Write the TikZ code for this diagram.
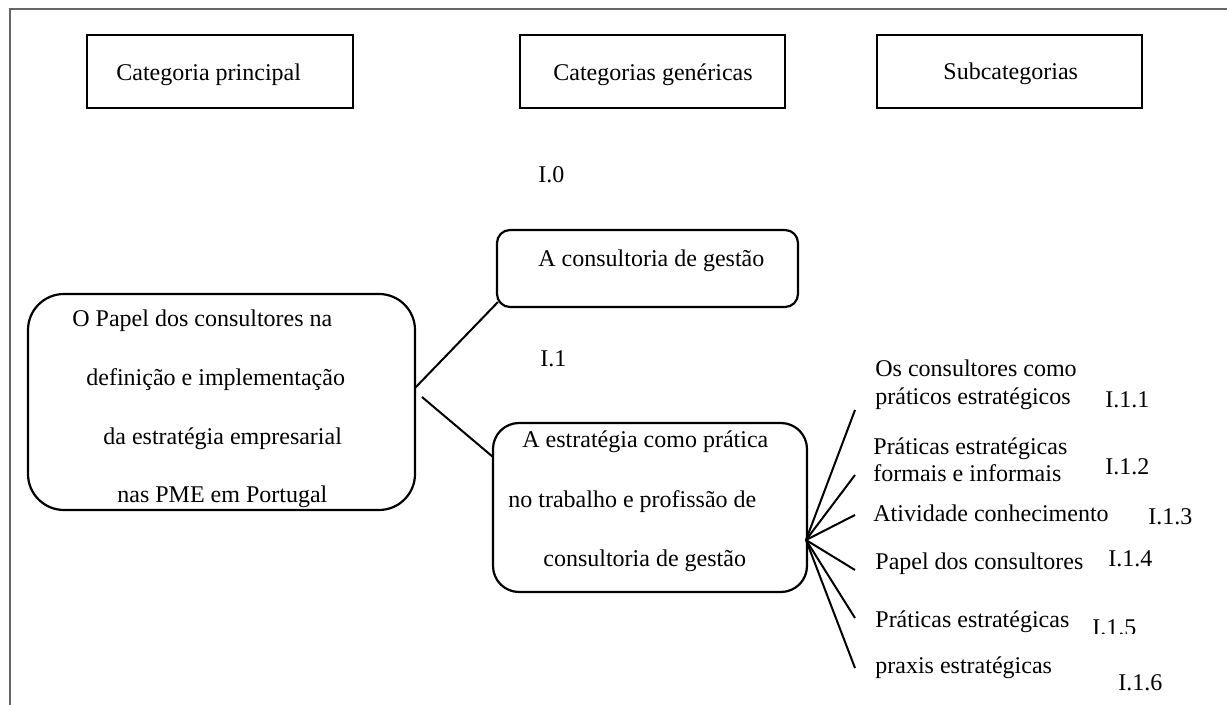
\documentclass[tikz,border=0pt]{standalone}
\usepackage{fontspec}
\setmainfont{Liberation Serif}
\usetikzlibrary{fit}
\begin{document}
\begin{tikzpicture}[x=0.5pt,y=-0.5pt,
  txt/.style={anchor=base west, inner sep=0pt, font=\fontsize{12}{14}\selectfont},
  hdr/.style={draw, line width=1.2pt, inner sep=0pt},
  rbox/.style={draw, line width=1.1pt, inner sep=0pt},
  conn/.style={line width=1pt},
  framestyle/.style={line width=1pt, draw=black!60}]
\useasboundingbox (0,0) rectangle (1227,705);
% frame
\coordinate (ftr) at (1227,9);
\coordinate (ftl) at (10,9);
\coordinate (fbl) at (10,705);
\draw[framestyle] (ftr) -- (ftl) -- (fbl);

% header boxes
\node[hdr, fit={(87,35) (353,108)}] (h1) {};
\node[hdr, fit={(520,35) (785,108)}] (h2) {};
\node[hdr, fit={(877,35) (1142,108)}] (h3) {};
\node[txt] (h1t) at (116,81) {Categoria principal};
\node[txt] (h2t) at (553,81) {Categorias genéricas};
\node[txt] (h3t) at (943,80) {Subcategorias};

% main box
\node[rbox, rounded corners=18pt, fit={(28,294) (415,510)}] (big) {};
\node[txt] (b1) at (72,327) {O Papel dos consultores na};
\node[txt] (b2) at (86,386) {definição e implementação};
\node[txt] (b3) at (103,445) {da estratégia empresarial};
\node[txt] (b4) at (117,503) {nas PME em Portugal};

% generic categories
\node[txt] (i0) at (538,183) {I.0};
\node[rbox, rounded corners=6.5pt, fit={(497,230) (798,307)}] (cons) {};
\node[txt] (const) at (538,267) {A consultoria de gestão};
\node[txt] (i1) at (540,367) {I.1};
\node[rbox, rounded corners=13pt, fit={(493,423) (807,592)}] (est) {};
\node[txt] (e1t) at (522,448) {A estratégia como prática};
\node[txt] (e2t) at (508,508) {no trabalho e profissão de};
\node[txt] (e3t) at (543,567) {consultoria de gestão};

% connectors from main box
\coordinate (j1) at (415,388);
\coordinate (j2) at (422,397);
\coordinate (c1) at (498,302);
\coordinate (c2) at (493,457);
\draw[conn] (j1) -- (c1);
\draw[conn] (j2) -- (c2);

% fan
\coordinate (fan) at (806,540);
\coordinate (f1) at (855,410);
\coordinate (f2) at (855,475);
\coordinate (f3) at (855,515);
\coordinate (f4) at (855,570);
\coordinate (f5) at (855,618);
\coordinate (f6) at (855,668);
\foreach \k in {1,...,6} {\draw[conn] (fan) -- (f\k);}

% subcategories
\node[txt] (s1a) at (875,377) {Os consultores como};
\node[txt] (s1b) at (875,405) {práticos estratégicos};
\node[txt] (n11) at (1105,408) {I.1.1};
\node[txt] (s2a) at (873,455) {Práticas estratégicas};
\node[txt] (s2b) at (873,482) {formais e informais};
\node[txt] (n12) at (1105,475) {I.1.2};
\node[txt] (s3) at (873,522) {Atividade conhecimento};
\node[txt] (n13) at (1148,525) {I.1.3};
\node[txt] (s4) at (875,570) {Papel dos consultores};
\node[txt] (n14) at (1108,567) {I.1.4};
\node[txt] (s5) at (875,627) {Práticas estratégicas};
\begin{scope}
\clip (1080,600) rectangle (1160,633);
\node[txt] (n15) at (1092,636) {I.1.5};
\end{scope}
\node[txt] (s6) at (875,673) {praxis estratégicas};
\node[txt] (n16) at (1118,690) {I.1.6};
\end{tikzpicture}
\end{document}
